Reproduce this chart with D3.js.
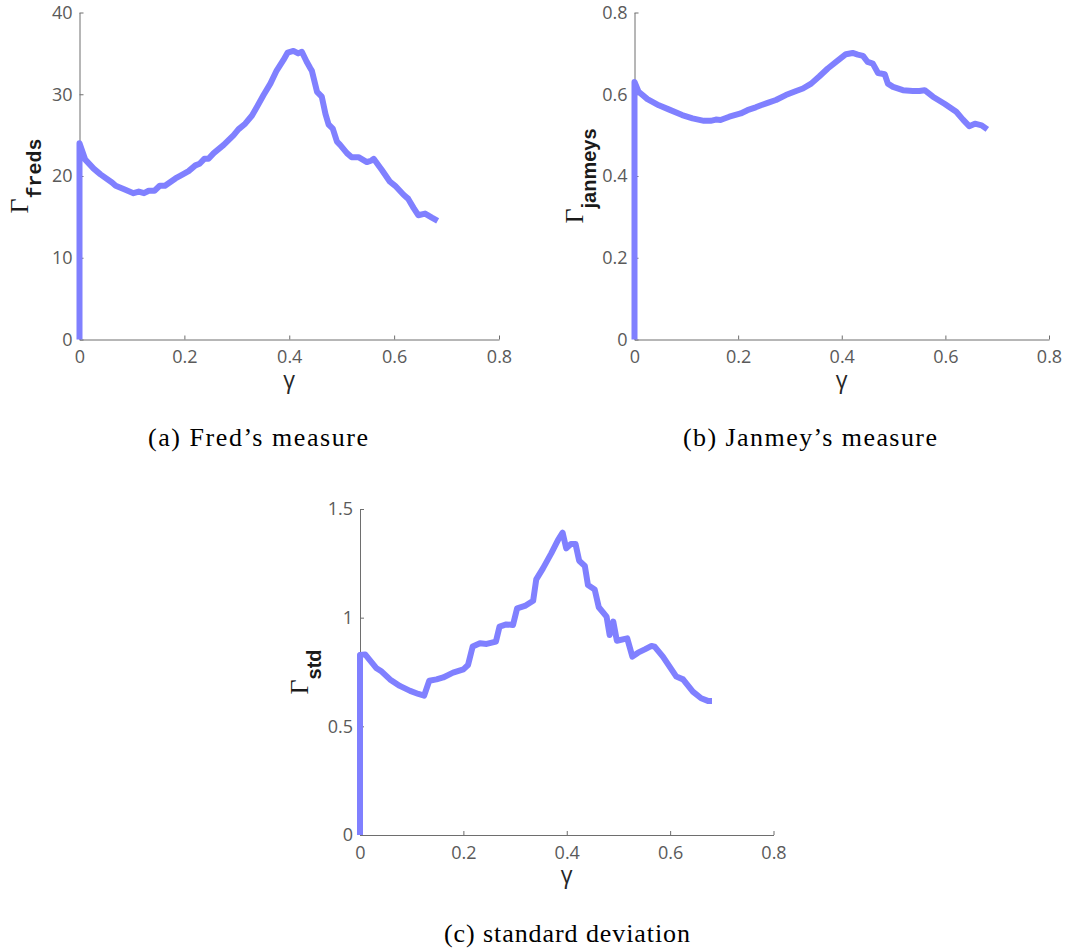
<!DOCTYPE html>
<html>
<head>
<meta charset="utf-8">
<script src="https://cdn.jsdelivr.net/npm/d3@7"></script>
<style>
  html, body { margin: 0; padding: 0; background: #ffffff; }
  svg { display: block; }
  .tick text { font-family: "Open Sans", sans-serif; font-size: 18px; fill: #5a5a5a; }
  .tick line, .domain { stroke: #6e6e6e; stroke-width: 1; }
</style>
</head>
<body>
<svg id="fig" width="1069" height="952"></svg>
<script>
// Shear-strain sweep: gamma values and the three stiffening measures
const fredsGamma = [0, 0, 0.011, 0.027, 0.040, 0.062, 0.069, 0.084, 0.103, 0.113, 0.123, 0.132, 0.143, 0.153, 0.163,
  0.183, 0.197, 0.208, 0.221, 0.229, 0.238, 0.246, 0.256, 0.275, 0.294, 0.303, 0.316, 0.329, 0.338, 0.351,
  0.364, 0.376, 0.389, 0.397, 0.408, 0.417, 0.424, 0.433, 0.440, 0.443, 0.453, 0.462, 0.469, 0.475, 0.483,
  0.491, 0.497, 0.510, 0.519, 0.532, 0.548, 0.557, 0.561, 0.577, 0.592, 0.602, 0.618, 0.627, 0.637, 0.646,
  0.659, 0.672, 0.683];
const fredsValue = [0, 24.0, 22.0, 20.9, 20.2, 19.2, 18.8, 18.4, 17.9, 18.1, 17.9, 18.2, 18.2, 18.8, 18.8,
  19.7, 20.2, 20.6, 21.3, 21.5, 22.1, 22.1, 22.8, 23.8, 25.0, 25.7, 26.4, 27.4, 28.4, 29.9,
  31.3, 32.9, 34.2, 35.1, 35.3, 35.0, 35.2, 34.0, 33.2, 32.9, 30.3, 29.7, 27.6, 26.3, 25.8,
  24.2, 23.8, 22.8, 22.3, 22.3, 21.7, 21.9, 22.1, 20.7, 19.3, 18.8, 17.7, 17.2, 16.1, 15.2,
  15.4, 14.9, 14.5];

const janmeysGamma = [0, 0, 0.008, 0.025, 0.047, 0.066, 0.092, 0.112, 0.134, 0.147, 0.157, 0.166, 0.183, 0.205,
  0.218, 0.234, 0.244, 0.257, 0.273, 0.292, 0.312, 0.325, 0.341, 0.357, 0.373, 0.389, 0.408, 0.421,
  0.431, 0.441, 0.450, 0.460, 0.470, 0.483, 0.489, 0.499, 0.518, 0.537, 0.550, 0.560, 0.576, 0.599,
  0.621, 0.634, 0.646, 0.657, 0.670, 0.681];
const janmeysValue = [0, 0.630, 0.606, 0.588, 0.573, 0.563, 0.549, 0.541, 0.535, 0.535, 0.538, 0.537, 0.545, 0.553,
  0.561, 0.568, 0.573, 0.579, 0.586, 0.598, 0.608, 0.614, 0.626, 0.644, 0.663, 0.679, 0.698, 0.701,
  0.697, 0.694, 0.679, 0.675, 0.652, 0.649, 0.626, 0.618, 0.610, 0.608, 0.608, 0.610, 0.594, 0.576,
  0.557, 0.538, 0.522, 0.528, 0.524, 0.514];

const stdGamma = [0, 0, 0.010, 0.019, 0.032, 0.042, 0.058, 0.077, 0.097, 0.113, 0.124, 0.134, 0.148, 0.161, 0.180,
  0.200, 0.209, 0.218, 0.232, 0.245, 0.263, 0.270, 0.283, 0.296, 0.304, 0.319, 0.335, 0.341, 0.354,
  0.370, 0.383, 0.392, 0.399, 0.408, 0.417, 0.424, 0.435, 0.441, 0.454, 0.462, 0.477, 0.483, 0.490,
  0.497, 0.517, 0.527, 0.538, 0.551, 0.564, 0.570, 0.586, 0.612, 0.625, 0.644, 0.660, 0.673, 0.681];
const stdValue = [0, 0.828, 0.831, 0.805, 0.767, 0.752, 0.716, 0.686, 0.663, 0.649, 0.641, 0.710, 0.716, 0.725, 0.747,
  0.762, 0.782, 0.867, 0.882, 0.879, 0.890, 0.959, 0.969, 0.966, 1.043, 1.054, 1.078, 1.176, 1.227,
  1.296, 1.357, 1.391, 1.319, 1.339, 1.339, 1.262, 1.238, 1.150, 1.130, 1.048, 1.005, 0.920, 0.982,
  0.894, 0.905, 0.821, 0.839, 0.854, 0.870, 0.867, 0.821, 0.729, 0.716, 0.660, 0.629, 0.617, 0.617];

const gammaTicks = [0, 0.2, 0.4, 0.6, 0.8];
const fredsTicks = [0, 10, 20, 30, 40];
const janmeysTicks = [0, 0.2, 0.4, 0.6, 0.8];
const stdTicks = [0, 0.5, 1, 1.5];

const svg = d3.select("#fig");
const lineColor = "#8080ff";

const panels = [
  { gamma: fredsGamma, value: fredsValue, yMax: 40, yTicks: fredsTicks, yFmt: d3.format("d"),
    left: 79.5, right: 499, top: 12.5, bottom: 339.5,
    sub: "freds", subFont: "'Liberation Mono', 'DejaVu Sans Mono', monospace",
    caption: "(a) Fred\u2019s measure", capX: 258, capY: 446, capW: 220 },
  { gamma: janmeysGamma, value: janmeysValue, yMax: 0.8, yTicks: janmeysTicks, yFmt: d => d === 0 ? "0" : d3.format(".1f")(d),
    left: 634.5, right: 1049, top: 12.5, bottom: 339.5,
    sub: "janmeys", subFont: "'Liberation Sans', Arial, sans-serif",
    caption: "(b) Janmey\u2019s measure", capX: 810, capY: 446, capW: 254 },
  { gamma: stdGamma, value: stdValue, yMax: 1.5, yTicks: stdTicks, yFmt: d => d === 0 ? "0" : (d % 1 === 0 ? d3.format("d")(d) : d3.format(".1f")(d)),
    left: 360, right: 773.5, top: 509, bottom: 835,
    sub: "std", subFont: "'Liberation Sans', Arial, sans-serif",
    caption: "(c) standard deviation", capX: 567, capY: 942, capW: 246 }
];

const xFmt = d => d === 0 ? "0" : d3.format(".1f")(d);

panels.forEach(p => {
  const x = d3.scaleLinear().domain([0, 0.8]).range([p.left, p.right]);
  const y = d3.scaleLinear().domain([0, p.yMax]).range([p.bottom, p.top]);
  const g = svg.append("g");

  g.append("g")
    .attr("transform", `translate(0,${p.bottom})`)
    .call(d3.axisBottom(x).tickValues(gammaTicks).tickFormat(xFmt).tickSizeInner(-4).tickSizeOuter(0).tickPadding(11));

  g.append("g")
    .attr("transform", `translate(${p.left},0)`)
    .call(d3.axisLeft(y).tickValues(p.yTicks).tickFormat(p.yFmt).tickSizeInner(-4).tickSizeOuter(0).tickPadding(7));

  const pts = p.gamma.map((gm, i) => [gm, p.value[i]]);
  g.append("path")
    .datum(pts)
    .attr("fill", "none")
    .attr("stroke", lineColor)
    .attr("stroke-width", 6)
    .attr("stroke-linejoin", "round")
    .attr("d", d3.line().x(d => x(d[0])).y(d => y(d[1])));

  // x-axis label
  g.append("text")
    .attr("x", (p.left + p.right) / 2)
    .attr("y", p.bottom + 48)
    .attr("text-anchor", "middle")
    .style("font-family", "'Open Sans', sans-serif")
    .style("font-size", "23px")
    .style("fill", "#262626")
    .text("\u03b3");

  // y-axis label: Gamma with a bold subscript
  const cy = (p.top + p.bottom) / 2;
  const yl = g.append("text")
    .attr("transform", `translate(${p.left - 52},${cy}) rotate(-90)`)
    .attr("text-anchor", "middle")
    .style("fill", "#1a1a1a");
  yl.append("tspan")
    .style("font-family", "'Liberation Serif', 'Times New Roman', serif")
    .style("font-size", "26px")
    .text("\u0393");
  yl.append("tspan")
    .attr("dy", 13)
    .style("font-family", p.subFont)
    .style("font-weight", "bold")
    .style("font-size", "20px")
    .text(p.sub);

  // caption under the panel
  svg.append("text")
    .attr("x", p.capX)
    .attr("y", p.capY)
    .attr("text-anchor", "middle")
    .attr("textLength", p.capW)
    .attr("lengthAdjust", "spacing")
    .style("font-family", "'Liberation Serif', 'Times New Roman', serif")
    .style("font-size", "26px")
    .style("fill", "#000")
    .text(p.caption);
});
</script>
</body>
</html>
